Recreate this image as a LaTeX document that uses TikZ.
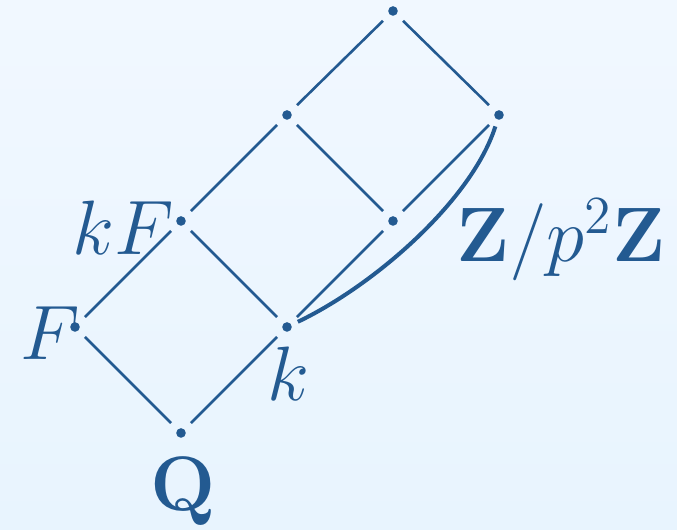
\documentclass[tikz,border=0pt]{standalone}
\usetikzlibrary{positioning, calc}
\definecolor{latblue}{RGB}{35,90,145}
\definecolor{bgtop}{RGB}{241,248,255}
\definecolor{bgbot}{RGB}{232,244,254}

\begin{document}
\begin{tikzpicture}[
        % one unit = one pixel of the reference, y pointing down
        x=0.25pt, y=-0.25pt,
        lab/.style={font=\fontsize{20.74}{24}\selectfont, text=latblue, scale=0.93},
        dot/.style={circle, fill=latblue, inner sep=0pt, minimum size=2.4pt},
        link/.style={draw=latblue, line width=0.65pt, shorten >=2.1pt, shorten <=2.1pt},
        arc/.style={draw=latblue, line width=1pt, shorten >=1.6pt, shorten <=1.6pt}
    ]

    % Hintergrund
    \shade[top color=bgtop, bottom color=bgbot] (0,0) rectangle (677,530);
    \useasboundingbox (0,0) rectangle (677,530);

    % Punkte des Gitters
    \node (Q)   [dot] at (181,433) {};
    \node (F)   [dot] at (75,327)  {};
    \node (k)   [dot] at (287,327) {};
    \node (kF)  [dot] at (181,221) {};
    \node (mr)  [dot] at (393,221) {};
    \node (tl)  [dot] at (287,115) {};
    \node (tr)  [dot] at (499,115) {};
    \node (top) [dot] at (393,11)  {};

    % Beschriftungen
    \node [lab] at (183,492) {$\mathbf{Q}$};
    \node [lab] at (288,374) {$k$};
    \node [lab] at (50,333)  {$F$};
    \node [lab] at (123,228) {$kF$};
    \node (zlab) [lab] at (561,240) {$\mathbf{Z}/p^2\mathbf{Z}$};

    % Kanten
    \draw [link] (Q) -- (F);
    \draw [link] (Q) -- (k);
    \draw [link] (F) -- (kF);
    \draw [link] (k) -- (kF);
    \draw [link] (k) -- (mr);
    \draw [link] (kF) -- (tl);
    \draw [link] (mr) -- (tl);
    \draw [link] (mr) -- (tr);
    \draw [link] (tl) -- (top);
    \draw [link] (tr) -- (top);

    % Bogen
    \draw [arc] (k) .. controls (375,285) and (472,200) .. (tr);

\end{tikzpicture}
\end{document}
